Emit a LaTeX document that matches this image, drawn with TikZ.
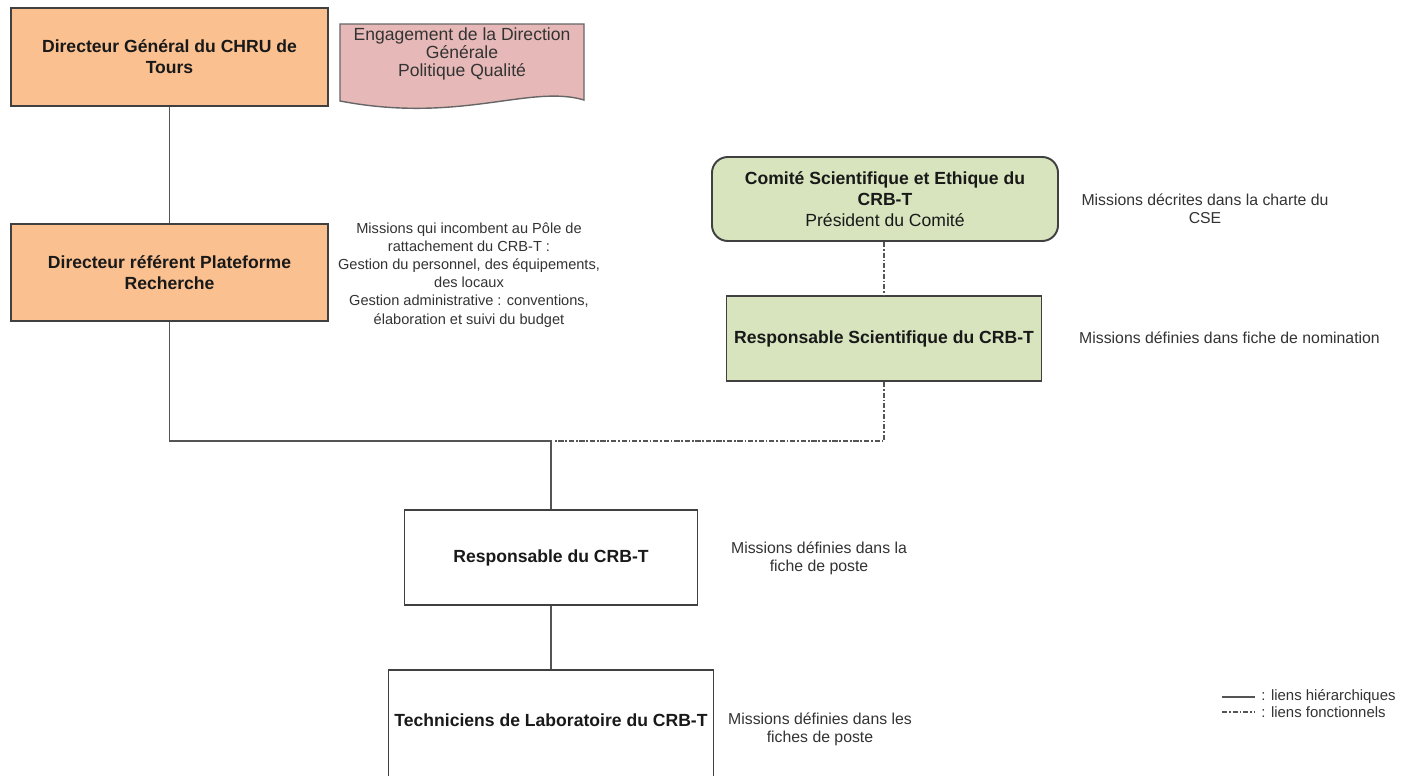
\documentclass[tikz,border=0pt]{standalone}
\usepackage{fontspec}
\setmainfont{Liberation Sans}
\definecolor{orangefill}{HTML}{FAC090}
\definecolor{pinkfill}{HTML}{E6B9B8}
\definecolor{greenfill}{HTML}{D7E4BD}
\definecolor{bordergray}{HTML}{404040}
\definecolor{linegray}{HTML}{555555}
\definecolor{textgray}{HTML}{333333}
\tikzset{
  box/.style={draw=bordergray, line width=1.1pt, inner sep=2pt, align=center,
    text=black!90, font=\bfseries\fontsize{10}{12}\selectfont},
  note/.style={align=center, text=textgray, font=\fontsize{9}{10.3}\selectfont},
  link/.style={draw=linegray, line width=0.9pt},
  flink/.style={link, dash pattern=on 3pt off 1pt on 1pt off 1pt},
}
\begin{document}
\begin{tikzpicture}[x=0.02cm,y=-0.02cm]
\useasboundingbox (0,0) rectangle (1409,776);
% boxes
\node[box, fill=orangefill, minimum width={317*0.02cm}, minimum height={98*0.02cm}] (dg) at (169.5,57) {Directeur Général du CHRU de\\Tours};
\filldraw[fill=pinkfill, draw=bordergray!80, line width=0.8pt]
  (340,24) -- (584,24) -- (584,100) .. controls (530,84) and (460,124) .. (340,101) -- cycle;
\node[align=center, text=textgray, font=\fontsize{10}{10.3}\selectfont] (doc) at (462,54) {Engagement de la Direction\\Générale\\Politique Qualité};
\node[box, fill=orangefill, minimum width={317*0.02cm}, minimum height={97*0.02cm}] (dr) at (169.5,272.5) {Directeur référent Plateforme\\Recherche};
\node[note, font=\fontsize{8.3}{10.3}\selectfont] (m1) at (469,275) {Missions qui incombent au Pôle de\\rattachement du CRB-T :\\Gestion du personnel, des équipements,\\des locaux\\Gestion administrative : conventions,\\élaboration et suivi du budget};
\node[box, fill=greenfill, rounded corners=9pt, minimum width={346*0.02cm}, minimum height={84*0.02cm}] (cse) at (885,199) {Comité Scientifique et Ethique du\\CRB-T\\\mdseries Président du Comité};
\node[note] (m2) at (1205,209) {Missions décrites dans la charte du\\CSE};
\node[box, fill=greenfill, minimum width={315*0.02cm}, minimum height={85*0.02cm}] (rs) at (884,338.5) {Responsable Scientifique du CRB-T};
\node[note, anchor=west] (m3) at (1073,338) {Missions définies dans fiche de nomination};
\node[box, fill=white, minimum width={293*0.02cm}, minimum height={95*0.02cm}] (rc) at (551,557.5) {Responsable du CRB-T};
\node[note] (m4) at (819,558) {Missions définies dans la\\fiche de poste};
\node[box, fill=white, minimum width={325*0.02cm}, minimum height={110*0.02cm}] (tl) at (551,725) {};
\node[font=\bfseries\fontsize{10}{12}\selectfont, text=black!90] (tlt) at (551,720) {Techniciens de Laboratoire du CRB-T};
\node[note] (m5) at (820,729) {Missions définies dans les\\fiches de poste};
% junction
\coordinate (j) at (551,441);
% connectors
\draw[link] (dg.south) -- (dg.south |- dr.north);
\draw[link] (dr.south) |- (j) -- (rc.north);
\draw[flink] (cse.south -| rs.north) -- (rs.north);
\draw[flink] (rs.south) |- ([xshift=2pt]j);
\draw[link] (rc.south) -- (tl.north);
% legend
\coordinate (l1a) at (1222,697); \coordinate (l1b) at (1255,697);
\coordinate (l2a) at (1222,712); \coordinate (l2b) at (1255,712);
\draw[link, line width=0.7pt] (l1a) -- (l1b);
\draw[flink, line width=0.7pt] (l2a) -- (l2b);
\node[note, anchor=west, font=\fontsize{8.5}{9}\selectfont, inner sep=0pt] (lg1) at (1261,697) {: liens hiérarchiques};
\node[note, anchor=west, font=\fontsize{8.5}{9}\selectfont, inner sep=0pt] (lg2) at (1261,712) {: liens fonctionnels};
\end{tikzpicture}
\end{document}
